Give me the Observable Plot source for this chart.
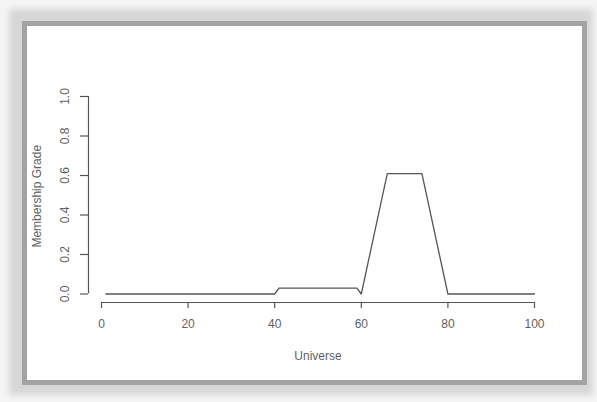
<!DOCTYPE html>
<html>
<head>
<meta charset="utf-8">
<script src="https://cdn.jsdelivr.net/npm/d3@7"></script>
<script src="https://cdn.jsdelivr.net/npm/@observablehq/plot@0.6"></script>
<style>
  html, body { margin: 0; padding: 0; }
  body { width: 597px; height: 402px; background: #f5f5f5; position: relative; overflow: hidden; font-family: "Liberation Sans", Arial, sans-serif; }
  .shadow { position: absolute; left: 9px; top: 9px; width: 584px; height: 386px; background: #d6d6d6; filter: blur(3px); }
  .frame { position: absolute; left: 22px; top: 21px; width: 565px; height: 364px; background: #a3a3a3; }
  .paper { position: absolute; left: 27px; top: 26px; width: 555px; height: 354px; background: #ffffff; }
  #chart { position: absolute; left: 0; top: 0; }
</style>
</head>
<body>
<div class="shadow"></div>
<div class="frame"></div>
<div class="paper"></div>
<div id="chart"></div>
<script>
// Breakpoints of the membership function
const universe = [1, 40, 41, 59, 60, 66, 74, 80, 100];
const grade    = [0, 0, 0.03, 0.03, 0, 0.61, 0.61, 0, 0];

const xTicks = [0, 20, 40, 60, 80, 100];
const yTicks = [0, 0.2, 0.4, 0.6, 0.8, 1.0];

const xLabel = "Universe";
const yLabel = "Membership Grade";

const data = universe.map((u, i) => ({u, g: grade[i]}));
const ink = "#555";
const textInk = "#5f5f5f";

const chart = Plot.plot({
  width: 597,
  height: 402,
  marginLeft: 101,
  marginRight: 63,
  marginTop: 96,
  marginBottom: 108.5,
  style: {background: "transparent", fontFamily: "'Liberation Sans', Arial, sans-serif", fontSize: "12px", color: textInk},
  x: {domain: [0, 100]},
  y: {domain: [0, 1]},
  marks: [
    // x axis (offset below the plot region, R style)
    Plot.ruleY([0], {x1: 0, x2: 100, dy: 8.5, stroke: ink, strokeWidth: 1.2}),
    Plot.axisX({ticks: xTicks, tickSize: 6, tickPadding: 11, dy: 8.5, tickFormat: d => String(d), label: null, stroke: ink, strokeWidth: 1.2, fill: textInk, fontSize: 12}),
    Plot.text([xLabel], {frameAnchor: "bottom", dy: 62, lineAnchor: "middle", fill: textInk, fontSize: 12}),
    // y axis (offset left of the plot region)
    Plot.ruleX([0], {y1: 0, y2: 1, dx: -13, stroke: ink, strokeWidth: 1.2}),
    Plot.axisY({ticks: yTicks, tickSize: 8, tickPadding: 12, dx: -13, tickRotate: -90, tickFormat: d => d.toFixed(1), label: null, stroke: ink, strokeWidth: 1.2, fill: textInk, fontSize: 12}),
    Plot.text([yLabel], {frameAnchor: "left", dx: -64, dy: 1, rotate: -90, textAnchor: "middle", lineAnchor: "middle", fill: textInk, fontSize: 12}),
    // membership function
    Plot.line(data, {x: "u", y: "g", stroke: ink, strokeWidth: 1.3})
  ]
});
document.getElementById("chart").appendChild(chart);
</script>
</body>
</html>
